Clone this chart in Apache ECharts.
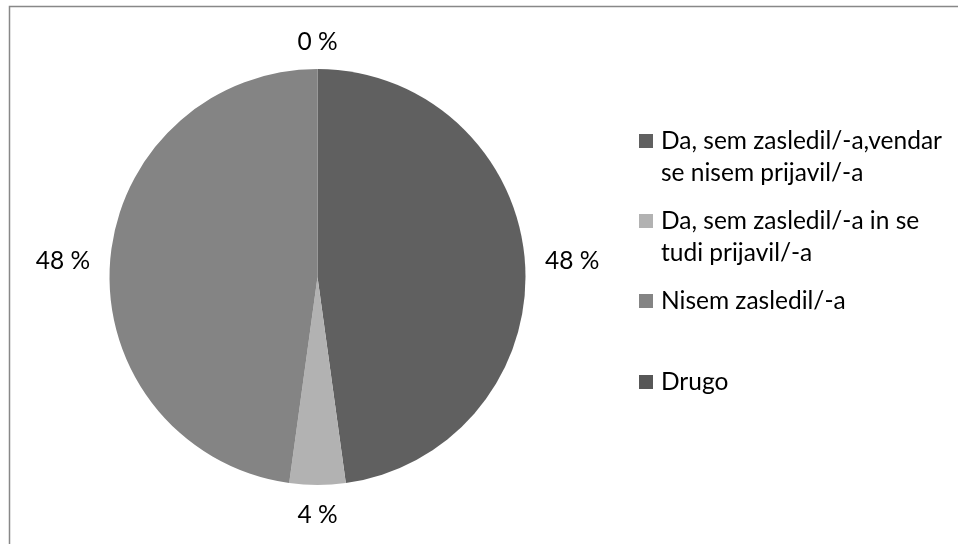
<!DOCTYPE html>
<html>
<head>
<meta charset="utf-8">
<script src="https://cdn.jsdelivr.net/npm/echarts@6/dist/echarts.min.js"></script>
<style>html,body{margin:0;padding:0;background:#fff;}#c{width:958px;height:544px;}</style>
</head>
<body>
<div id="c"></div>
<script>
var categories = ['Da, sem zasledil/-a,vendar\nse nisem prijavil/-a', 'Da, sem zasledil/-a in se\ntudi prijavil/-a', 'Nisem zasledil/-a', 'Drugo'];
var values = [11, 1, 11, 0];
var colors = ['#606060', '#b2b2b2', '#848484', '#575757'];

var FONT = 'Lato';
var FS = 24.5;
var chart = echarts.init(document.getElementById('c'));

var data = categories.map(function (n, i) {
  var d = { name: n, value: values[i], itemStyle: { color: colors[i] } };
  if (i === 1) d.labelLine = { length: 30 };
  if (i === 3) d.labelLine = { length: 27 };
  return d;
});

var legendTops = [93, 173, 285, 366];
var legends = categories.map(function (n, i) {
  var twoLine = n.indexOf('\n') >= 0;
  return {
    data: [n],
    orient: 'vertical',
    left: 639,
    top: legendTops[i],
    padding: 0,
    itemWidth: 14,
    itemHeight: 14,
    icon: 'rect',
    selectedMode: false,
    formatter: function (name) { return twoLine ? ' \n' + name : name; },
    textStyle: {
      fontFamily: FONT, fontSize: FS, color: '#000', lineHeight: 32,
      padding: [0, 0, 0, 3]
    }
  };
});

chart.setOption({
  animation: false,
  graphic: [{
    type: 'rect', shape: { x: 9.5, y: 6.5, width: 2000, height: 2000 },
    style: { fill: 'none', stroke: '#888', lineWidth: 1.5 }, silent: true
  }],
  legend: legends,
  series: [{
    type: 'pie',
    center: [317.5, 277],
    radius: 208,
    startAngle: 90,
    clockwise: true,
    avoidLabelOverlap: false,
    emphasis: { disabled: true },
    label: {
      show: true,
      position: 'outside',
      distanceToLabelLine: 0,
      fontFamily: FONT, fontSize: FS, color: '#000',
      formatter: function (p) { return Math.round(p.percent) + ' %'; }
    },
    labelLine: { show: false, length: 20, length2: 0 },
    labelLayout: function (p) {
      if (p.dataIndex === 1 || p.dataIndex === 3) return { align: 'center' };
      return {};
    },
    data: data
  }]
});
</script>
</body>
</html>
